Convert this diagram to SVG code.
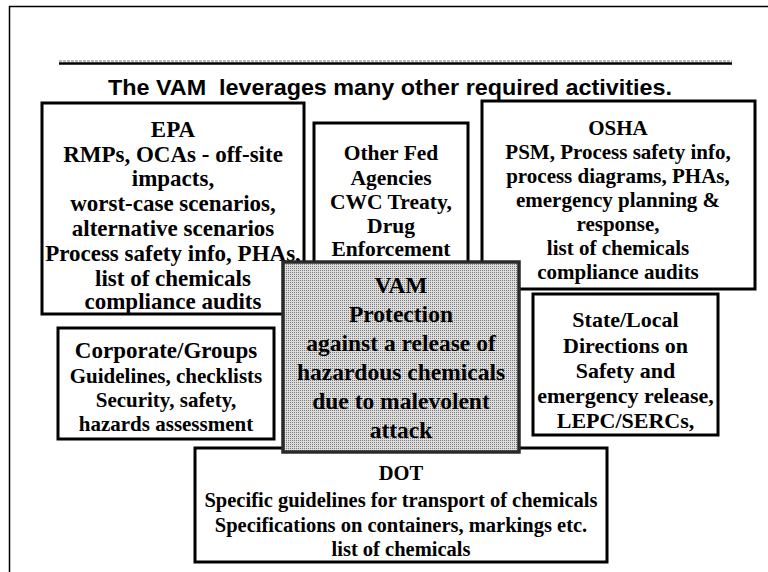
<svg xmlns="http://www.w3.org/2000/svg" width="768" height="572" viewBox="0 0 768 572">
<defs>
<pattern id="dots" width="2" height="2" patternUnits="userSpaceOnUse">
<rect width="2" height="2" fill="#dddddd"/>
<rect width="1" height="1" fill="#7a7a7a"/>
</pattern>
<style>
.box{fill:#ffffff;stroke:#000000;stroke-width:3}
.t{font-family:"Liberation Serif","Times New Roman",serif;font-weight:bold;fill:#000000;text-anchor:middle}
.title{font-family:"Liberation Sans",Arial,sans-serif;font-weight:bold;font-size:22px;fill:#000000;white-space:pre}
</style>
</defs>
<rect width="768" height="572" fill="#ffffff"/>
<g id="frame">
<line x1="9.5" y1="6" x2="9.5" y2="572" stroke="#000" stroke-width="1.5"/>
<line x1="9" y1="6.5" x2="768" y2="6.5" stroke="#000" stroke-width="1.5"/>
<line x1="59" y1="61" x2="732" y2="61" stroke="#777" stroke-width="1" stroke-dasharray="3 1"/>
<line x1="59" y1="63.5" x2="732" y2="63.5" stroke="#000" stroke-width="2.5"/>
<text class="title" x="108" y="95" textLength="564" lengthAdjust="spacingAndGlyphs">The VAM  leverages many other required activities.</text>
</g>
<g id="connectors"/>
<g id="epa">
<rect class="box" x="42" y="103" width="262" height="211"/>
<g class="t" font-size="23">
<text x="173" y="137">EPA</text>
<text x="173" y="162">RMPs, OCAs - off-site</text>
<text x="173" y="186">impacts,</text>
<text x="173" y="211">worst-case scenarios,</text>
<text x="173" y="236">alternative scenarios</text>
<text x="173" y="261">Process safety info, PHAs,</text>
<text x="173" y="286">list of chemicals</text>
<text x="173" y="309">compliance audits</text>
</g>
</g>
<g id="other-fed">
<rect class="box" x="314" y="123" width="154" height="180"/>
<g class="t" font-size="21.5">
<text x="391" y="160">Other Fed</text>
<text x="391" y="185">Agencies</text>
<text x="391" y="209">CWC Treaty,</text>
<text x="391" y="233">Drug</text>
<text x="391" y="256">Enforcement</text>
</g>
</g>
<g id="osha">
<rect class="box" x="482" y="101" width="273" height="188"/>
<g class="t" font-size="21">
<text x="618" y="135">OSHA</text>
<text x="618" y="159">PSM, Process safety info,</text>
<text x="618" y="183">process diagrams, PHAs,</text>
<text x="618" y="207">emergency planning &amp;</text>
<text x="618" y="231">response,</text>
<text x="618" y="255">list of chemicals</text>
<text x="618" y="279">compliance audits</text>
</g>
</g>
<g id="corporate">
<rect class="box" x="58" y="328" width="216" height="111"/>
<g class="t" font-size="21">
<text x="166" y="358" font-size="23">Corporate/Groups</text>
<text x="166" y="383">Guidelines, checklists</text>
<text x="166" y="407">Security, safety,</text>
<text x="166" y="431">hazards assessment</text>
</g>
</g>
<g id="state-local">
<rect class="box" x="533" y="294" width="185" height="141"/>
<g class="t" font-size="22">
<text x="625.5" y="327">State/Local</text>
<text x="625.5" y="353">Directions on</text>
<text x="625.5" y="378">Safety and</text>
<text x="625.5" y="403">emergency release,</text>
<text x="625.5" y="428">LEPC/SERCs,</text>
</g>
</g>
<g id="dot">
<rect class="box" x="195" y="448" width="412" height="114"/>
<g class="t" font-size="20.5">
<text x="401" y="480">DOT</text>
<text x="401" y="507">Specific guidelines for transport of chemicals</text>
<text x="401" y="532">Specifications on containers, markings etc.</text>
<text x="401" y="556">list of chemicals</text>
</g>
</g>
<g id="vam">
<rect x="283" y="262" width="236" height="190" fill="url(#dots)" stroke="#2a2a2a" stroke-width="3.5"/>
<g class="t" font-size="23.5">
<text x="401" y="293">VAM</text>
<text x="401" y="322">Protection</text>
<text x="401" y="351">against a release of</text>
<text x="401" y="380">hazardous chemicals</text>
<text x="401" y="409">due to malevolent</text>
<text x="401" y="438">attack</text>
</g>
</g>
</svg>
